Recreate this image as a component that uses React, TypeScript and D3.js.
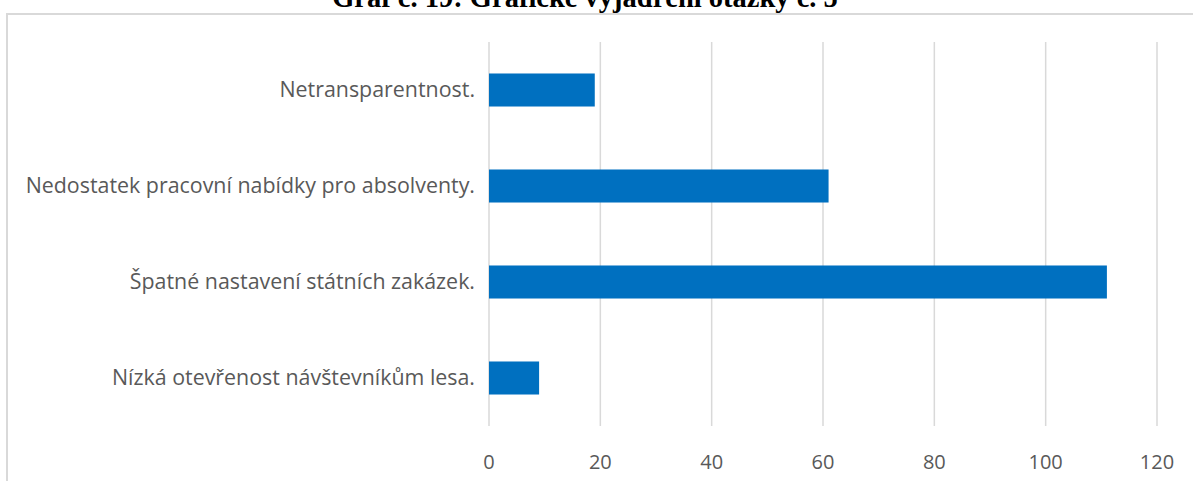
import React, { useEffect, useRef } from 'react';
import * as d3 from 'd3';

const categories = [
  'Netransparentnost.',
  'Nedostatek pracovní nabídky pro absolventy.',
  'Špatné nastavení státních zakázek.',
  'Nízká otevřenost návštevníkům lesa.',
];
const values = [19, 61, 111, 9];
const xTicks = [0, 20, 40, 60, 80, 100, 120];
const title = 'Graf č. 19: Grafické vyjádření otázky č. 5';

const WIDTH = 1193;
const HEIGHT = 481;

export default function App() {
  const chartRef = useRef<SVGSVGElement>(null);

  useEffect(() => {
    if (!chartRef.current) return;
    const svg = d3.select(chartRef.current);
    svg.selectAll('*').remove();

    // plot area
    const left = 489;
    const right = 1157;
    const top = 42;
    const bottom = 426;

    const x = d3.scaleLinear().domain([0, 120]).range([left, right]);
    const y = d3
      .scaleBand<string>()
      .domain(categories)
      .range([top, bottom])
      .paddingInner(0.656)
      .paddingOuter(0.328);

    // title (clipped at the top of the page, as in the source)
    svg
      .append('text')
      .attr('x', 585)
      .attr('y', 7)
      .attr('text-anchor', 'middle')
      .style('font-family', '"Liberation Serif", "Times New Roman", serif')
      .style('font-weight', 'bold')
      .style('font-size', '28.5px')
      .attr('fill', '#000')
      .text(title);

    // chart frame
    svg
      .append('path')
      .attr('d', `M7,${HEIGHT + 2} L7,14 L${WIDTH + 2},14`)
      .attr('fill', 'none')
      .attr('stroke', '#d9d9d9')
      .attr('stroke-width', 2);

    // vertical gridlines
    svg
      .append('g')
      .selectAll('line')
      .data(xTicks)
      .enter()
      .append('line')
      .attr('x1', d => x(d))
      .attr('x2', d => x(d))
      .attr('y1', top)
      .attr('y2', bottom)
      .attr('stroke', '#d9d9d9')
      .attr('stroke-width', 1.5);

    // bars
    svg
      .append('g')
      .selectAll('rect')
      .data(values)
      .enter()
      .append('rect')
      .attr('x', x(0))
      .attr('y', (_, i) => y(categories[i]) as number)
      .attr('width', d => x(d) - x(0))
      .attr('height', y.bandwidth())
      .attr('fill', '#0070c0');

    // category labels
    svg
      .append('g')
      .selectAll('text')
      .data(categories)
      .enter()
      .append('text')
      .attr('x', left - 14)
      .attr('y', d => (y(d) as number) + y.bandwidth() / 2)
      .attr('dy', '0.35em')
      .attr('text-anchor', 'end')
      .style('font-family', '"Open Sans", sans-serif')
      .style('font-size', '21.4px')
      .attr('fill', '#595959')
      .text(d => d);

    // x tick labels
    svg
      .append('g')
      .selectAll('text')
      .data(xTicks)
      .enter()
      .append('text')
      .attr('x', d => x(d))
      .attr('y', 462)
      .attr('dy', '0.35em')
      .attr('text-anchor', 'middle')
      .style('font-family', '"Open Sans", sans-serif')
      .style('font-size', '20px')
      .attr('fill', '#595959')
      .text(d => d);
  }, []);

  return (
    <svg
      ref={chartRef}
      width={WIDTH}
      height={HEIGHT}
      style={{ position: 'absolute', left: 0, top: 0, background: '#fff' }}
    />
  );
}
